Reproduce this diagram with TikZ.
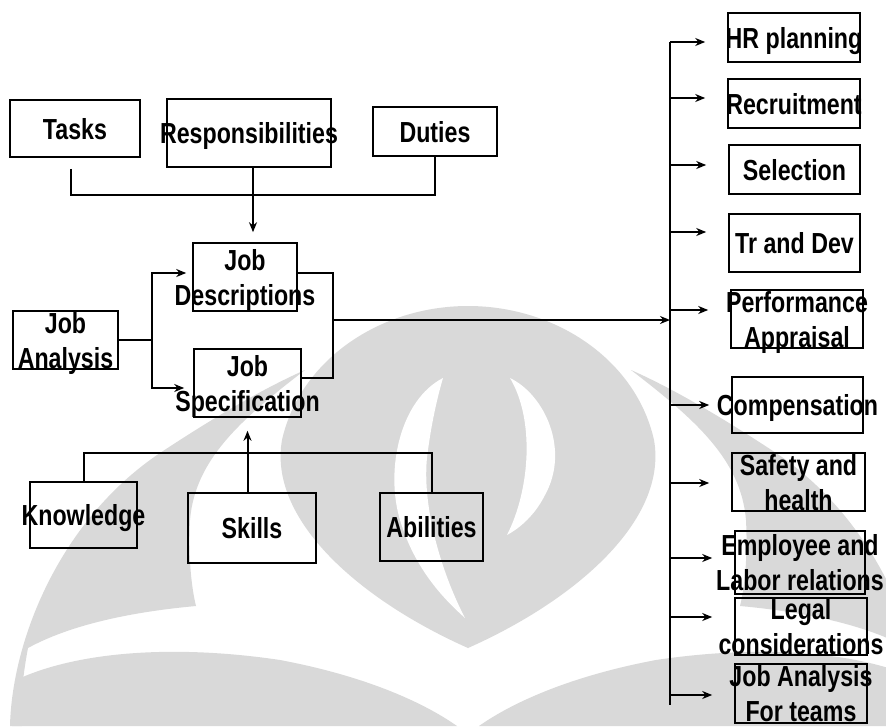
\documentclass[tikz,border=0pt]{standalone}
\usepackage{fontspec}
\usetikzlibrary{arrows.meta}
\newfontfamily\diagfont{Liberation Sans Bold}[FakeStretch=0.8]
\tikzset{
  box/.style={draw, line width=1.6pt, inner sep=0pt, align=center, text depth=0pt,
    font={\diagfont\fontsize{29}{35}\selectfont}},
  conn/.style={line width=2pt},
  arr/.style={conn, -{Stealth[length=10pt,width=8pt]}},
  wm/.style={fill=black!15},
  wmcut/.style={fill=white}
}
\newcommand{\ctr}[1]{\makebox[0pt]{#1}}
\begin{document}
\begin{tikzpicture}[x=1pt,y=-1pt]
\useasboundingbox (0,0) rectangle (886,726);
\fill[white] (0,0) rectangle (886,726);

% ---- faint emblem in the background (left half, then its mirror) ----
\foreach \flip/\shift in {1/0,-1/936}{
  \begin{scope}[xshift=\shift pt, xscale=\flip]
    % outer arch
    \fill[wm] (468,306) .. controls (380,306) and (300,360) .. (282,440)
      .. controls (268,520) and (360,600) .. (468,648) -- cycle;
    % sweeping side band
    \fill[wm] (10,726) .. controls (12,640) and (60,520) .. (160,453)
      .. controls (210,420) and (260,390) .. (305,370)
      .. controls (240,420) and (195,460) .. (190,520)
      .. controls (188,560) and (192,590) .. (196,606)
      .. controls (130,612) and (70,625) .. (28,648)
      .. controls (22,680) and (20,705) .. (22,726) -- cycle;
    % lower wave band
    \fill[wm] (12,726) .. controls (12,700) and (14,690) .. (16,680)
      .. controls (80,650) and (180,645) .. (280,660)
      .. controls (360,675) and (420,700) .. (457,726) -- cycle;
  \end{scope}
}
% openings inside the arch around the central leaf
\fill[wmcut] (443,378) .. controls (400,400) and (385,470) .. (400,520)
  .. controls (415,570) and (445,600) .. (465,618)
  .. controls (440,570) and (420,500) .. (428,450)
  .. controls (432,420) and (438,395) .. (443,378) -- cycle;
\fill[wmcut] (510,378) .. controls (545,395) and (570,450) .. (545,495)
  .. controls (535,515) and (520,528) .. (507,535)
  .. controls (530,490) and (535,420) .. (510,378) -- cycle;

% ---- boxes ----
\node[box, minimum width=130pt, minimum height=57pt] (tasks) at (75,128.5) {\ctr{Tasks}};
\node[box, minimum width=164pt, minimum height=68pt] (resp) at (249,133) {\ctr{Responsibilities}};
\node[box, minimum width=124pt, minimum height=49pt] (duties) at (435,131.5) {\ctr{Duties}};

\node[box, minimum width=104pt, minimum height=68pt] (jd) at (245,277) {\ctr{Job}\\\ctr{Descriptions}};
\node[box, minimum width=107pt, minimum height=68pt] (js) at (247.5,383) {\ctr{Job}\\\ctr{Specification}};
\node[box, minimum width=105pt, minimum height=58pt] (ja) at (65.5,340) {\ctr{Job}\\\ctr{Analysis}};

\node[box, minimum width=107pt, minimum height=66pt] (kn) at (83.5,515) {\ctr{Knowledge}};
\node[box, minimum width=128pt, minimum height=70pt] (sk) at (252,528) {\ctr{Skills}};
\node[box, minimum width=103pt, minimum height=68pt] (ab) at (431.5,527) {\ctr{Abilities}};

\node[box, minimum width=132pt, minimum height=49pt] (hr) at (794,37.5) {\ctr{HR planning}};
\node[box, minimum width=132pt, minimum height=49pt] (rec) at (794,103.5) {\ctr{Recruitment}};
\node[box, minimum width=131pt, minimum height=49pt] (sel) at (794.5,169.5) {\ctr{Selection}};
\node[box, minimum width=131pt, minimum height=58pt] (trd) at (794.5,243) {\ctr{Tr and Dev}};
\node[box, minimum width=132pt, minimum height=58pt] (perf) at (797,319) {\ctr{Performance}\\\ctr{Appraisal}};
\node[box, minimum width=131pt, minimum height=56pt] (comp) at (797.5,405) {\ctr{Compensation}};
\node[box, minimum width=133pt, minimum height=58pt] (safe) at (798.5,482) {\ctr{Safety and}\\\ctr{health}};
\node[box, minimum width=130pt, minimum height=63pt] (emp) at (800,562.5) {\ctr{Employee and}\\\ctr{Labor relations}};
\node[box, minimum width=132pt, minimum height=57pt] (legal) at (801,626.5) {\ctr{Legal}\\\ctr{considerations}};
\node[box, minimum width=132pt, minimum height=59pt] (team) at (801,693.5) {\ctr{Job Analysis}\\\ctr{For teams}};

% ---- connectors ----
\coordinate (tj) at (253,195);
\draw[conn] ([xshift=-4pt,yshift=-11pt]tasks.south) |- (tj) -| (duties.south);
\draw[arr, shorten >=10pt] (resp.south -| tj) -- (jd.north -| tj);

\coordinate (fork) at (152,340);
\draw[conn] (ja.east) -- (fork);
\draw[arr, shorten >=6pt] (fork) |- ([yshift=4pt]jd.west);
\draw[arr, shorten >=9pt] (fork) |- ([yshift=-5pt]js.west);

\coordinate (mg) at (333,320);
\coordinate (bus) at (670,42);
\coordinate (busend) at (670,705);
\draw[conn] ([yshift=4pt]jd.east) -| (mg) |- ([yshift=5pt]js.east);
\draw[arr] (mg) -- (mg -| bus);
\draw[conn] (bus) -- (busend);
\foreach \n/\y in {hr/42,rec/98,sel/165,trd/232,perf/310,comp/405,safe/483,emp/558,legal/617,team/695}
  \draw[arr, shorten >=22pt] (bus |- 0,\y) -- (\n.west |- 0,\y);

\draw[arr, shorten >=13pt] (sk.north -| js.south) -- (js.south);
\draw[conn] (kn.north) |- (ab.north |- 0,453) -- (ab.north);
\end{tikzpicture}
\end{document}
